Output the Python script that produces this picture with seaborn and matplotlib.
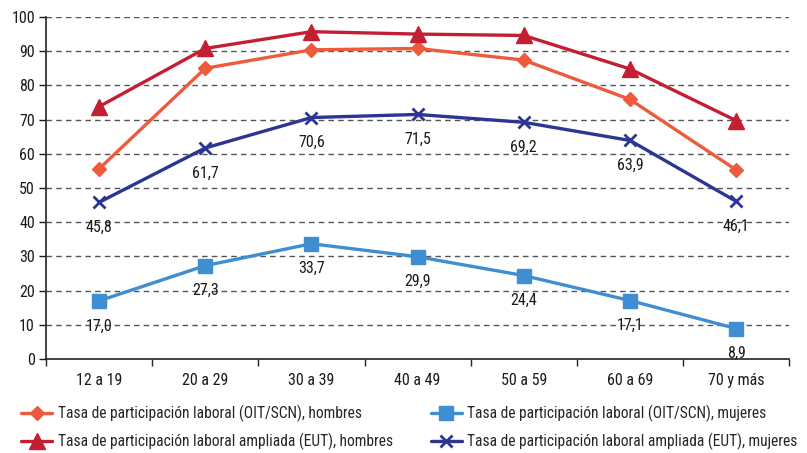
import matplotlib
matplotlib.use("Agg")
import matplotlib.pyplot as plt
from matplotlib import font_manager
import seaborn as sns
import pandas as pd
import numpy as np
from matplotlib.ticker import FixedLocator

categories = ["12 a 19", "20 a 29", "30 a 39", "40 a 49", "50 a 59", "60 a 69", "70 y más"]
oit_hombres = [55.6, 85.0, 90.4, 90.8, 87.4, 75.9, 55.3]
eut_hombres = [73.8, 90.8, 95.7, 95.0, 94.6, 84.8, 69.7]
oit_mujeres = [17.0, 27.3, 33.7, 29.9, 24.4, 17.1, 8.9]
eut_mujeres = [45.8, 61.7, 70.6, 71.5, 69.2, 63.9, 46.1]
y_ticks = [0, 10, 20, 30, 40, 50, 60, 70, 80, 90, 100]

names = [
    "Tasa de participación laboral (OIT/SCN), hombres",
    "Tasa de participación laboral ampliada (EUT), hombres",
    "Tasa de participación laboral (OIT/SCN), mujeres",
    "Tasa de participación laboral ampliada (EUT), mujeres",
]

sns.set_theme(style="white")
available = {f.name for f in font_manager.fontManager.ttflist}
condensed = None
for cand in ["Liberation Sans Narrow", "DejaVu Sans Condensed", "Roboto Condensed",
             "Open Sans Condensed", "Noto Sans Condensed"]:
    if cand in available:
        condensed = cand
        break
if condensed:
    plt.rcParams["font.family"] = [condensed, "DejaVu Sans"]
    fs = 11.5
    lfs = 11.2
    colsp = 2.45
else:
    plt.rcParams["font.family"] = ["Liberation Sans", "DejaVu Sans"]
    fs = 10.5
    lfs = 9.5
    colsp = 1.2

fig = plt.figure(figsize=(8.07, 4.53), dpi=100)
ax = fig.add_axes([0.057, 0.2075, 0.921, 0.755])

series = [oit_hombres, eut_hombres, oit_mujeres, eut_mujeres]
colors = ["#EE5A3C", "#C41E33", "#3F8ED2", "#2B3592"]
markers = ["D", "^", "s", "x"]
msizes = [7.5, 11, 9.5, 8]
xpos = np.arange(len(categories))

for vals, name, c, m, ms in zip(series, names, colors, markers, msizes):
    df = pd.DataFrame({"x": xpos, "y": vals})
    sns.lineplot(data=df, x="x", y="y", ax=ax, color=c, linewidth=2.4,
                 marker=m, markersize=ms, markeredgecolor=c, markeredgewidth=2 if m == "x" else 1,
                 label=name)

for vals in [oit_mujeres, eut_mujeres]:
    for xi, v in zip(xpos, vals):
        ax.annotate(f"{v:.1f}".replace(".", ","), (xi, v), xytext=(0, -25),
                    textcoords="offset pixels", ha="center", va="center",
                    fontsize=fs, color="#1a1a1a")

ax.set_xlim(-0.5, 6.5)
ax.set_ylim(0, 100)
ax.set_yticks(y_ticks)
ax.set_xticks(xpos)
ax.set_xticklabels(categories)
ax.xaxis.set_minor_locator(FixedLocator(np.arange(-0.5, 7, 1)))
ax.tick_params(axis="x", which="major", length=0, pad=10, labelsize=fs, colors="#1a1a1a")
ax.tick_params(axis="x", which="minor", length=5, width=1, direction="out", bottom=True, color="#222222")
ax.tick_params(axis="y", which="major", length=5, width=1, direction="out", left=True, pad=3,
               labelsize=fs, colors="#1a1a1a")
ax.set_xlabel("")
ax.set_ylabel("")
for t in y_ticks[1:]:
    ax.axhline(t, color="#555555", linestyle=(0, (4, 3)), linewidth=1, zorder=0)
for s in ["top", "right"]:
    ax.spines[s].set_visible(False)
for s in ["left", "bottom"]:
    ax.spines[s].set_color("#222222")
    ax.spines[s].set_linewidth(1.2)

handles, labels = ax.get_legend_handles_labels()
ax.get_legend().remove()
fig.legend(handles, labels, ncol=2, loc="upper left", bbox_to_anchor=(0.026, 0.106),
           frameon=False, fontsize=lfs, handlelength=2.0, handletextpad=0.35,
           columnspacing=colsp, labelspacing=0.7, borderaxespad=0, borderpad=0)

fig.savefig("out.png", dpi=100)
